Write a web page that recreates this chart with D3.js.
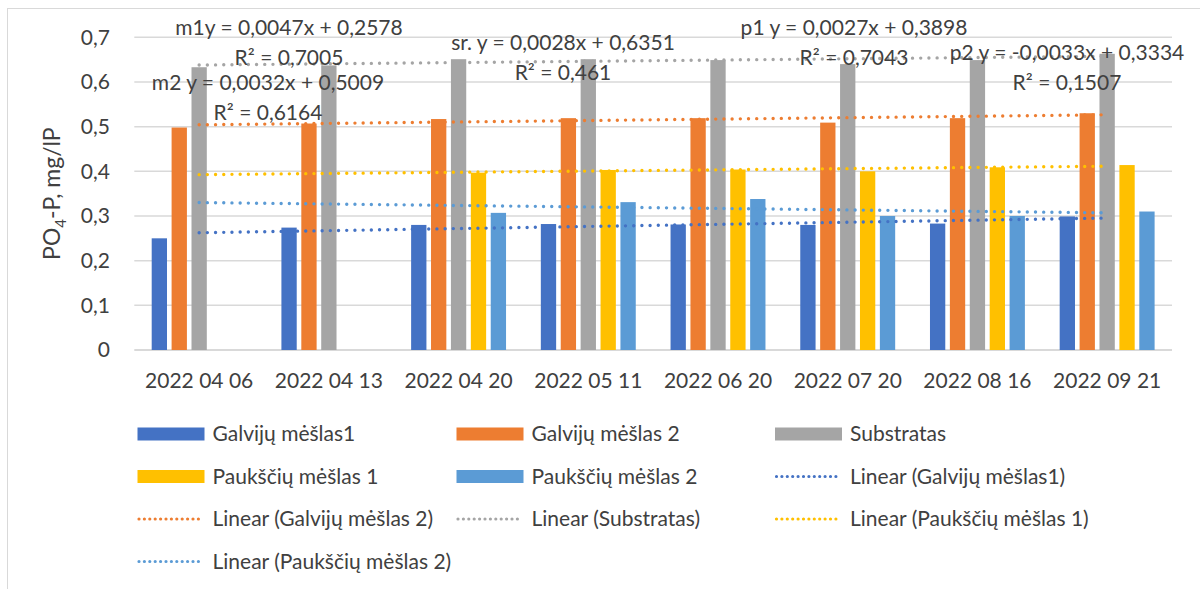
<!DOCTYPE html>
<meta charset="utf-8">
<style>
    body { margin: 0; background: #fff; }
    text { font-family: Lato, "Open Sans", sans-serif; fill: #404040; }
</style>
<body>
<div id="chart"></div>
<script src="https://cdn.jsdelivr.net/npm/d3@7"></script>
<script>
    // data
    var dates = ['2022 04 06', '2022 04 13', '2022 04 20', '2022 05 11', '2022 06 20', '2022 07 20', '2022 08 16', '2022 09 21']
    var seriesNames = ['Galvijų mėšlas1', 'Galvijų mėšlas 2', 'Substratas', 'Paukščių mėšlas 1', 'Paukščių mėšlas 2']
    var galvijai1 = [0.250, 0.274, 0.280, 0.282, 0.281, 0.280, 0.283, 0.299]
    var galvijai2 = [0.498, 0.507, 0.517, 0.519, 0.519, 0.509, 0.519, 0.530]
    var substratas = [0.633, 0.637, 0.651, 0.651, 0.649, 0.640, 0.649, 0.663]
    var paukstiai1 = [null, null, 0.397, 0.403, 0.404, 0.400, 0.409, 0.414]
    var paukstiai2 = [null, null, 0.307, 0.331, 0.338, 0.300, 0.300, 0.310]
    var colors = ['#4472C4', '#ED7D31', '#A5A5A5', '#FFC000', '#5B9BD5']
    var yTicks = [0, 0.1, 0.2, 0.3, 0.4, 0.5, 0.6, 0.7]

    // trendlines: slope, intercept (x = 1..8)
    var trendSlope = [0.0047, 0.0032, 0.0028, 0.0027, -0.0033]
    var trendIntercept = [0.2578, 0.5009, 0.6351, 0.3898, 0.3334]
    var trendLabels = [
        ['m1y = 0,0047x + 0,2578', 'R² = 0,7005'],
        ['m2 y = 0,0032x + 0,5009', 'R² = 0,6164'],
        ['sr. y = 0,0028x + 0,6351', 'R² = 0,461'],
        ['p1 y = 0,0027x + 0,3898', 'R² = 0,7043'],
        ['p2 y = -0,0033x + 0,3334', 'R² = 0,1507']
    ]
    var labelPos = [[289, 28], [268, 83], [563, 43], [854, 28], [1067, 53]]

    var values = [galvijai1, galvijai2, substratas, paukstiai1, paukstiai2]

    var width = 1200, height = 589
    var svg = d3.select('#chart').append('svg')
        .attr('width', width)
        .attr('height', height)

    // chart border (top + left visible)
    svg.append('line').attr('x1', 7).attr('x2', width).attr('y1', 8.5).attr('y2', 8.5)
        .style('stroke', '#d9d9d9').style('stroke-width', 1)
    svg.append('line').attr('x1', 7.5).attr('x2', 7.5).attr('y1', 8).attr('y2', height)
        .style('stroke', '#d9d9d9').style('stroke-width', 1)

    var x0 = d3.scaleBand().domain(dates).range([134.3, 1172]).padding(0)
    var x1 = d3.scaleBand().domain(d3.range(5)).range([0, x0.bandwidth()])
        .paddingInner(0.231).paddingOuter(0.874)
    var y = d3.scaleLinear().domain([0, 0.7]).range([350, 37.3])

    // gridlines
    svg.append('g').selectAll('line')
        .data(yTicks)
        .enter().append('line')
        .attr('x1', 134.3).attr('x2', 1172)
        .attr('y1', function (d) { return y(d) }).attr('y2', function (d) { return y(d) })
        .style('stroke', '#d9d9d9')
        .style('stroke-width', function (d) { return d === 0 ? 2 : 1.5 })

    // y axis
    var yAxis = d3.axisLeft(y).tickValues(yTicks).tickSize(0).tickPadding(0)
        .tickFormat(function (d) { return d === 0 ? '0' : d3.format('.1f')(d).replace('.', ',') })
    var gy = svg.append('g').attr('transform', 'translate(110,0)').call(yAxis)
    gy.select('.domain').remove()
    gy.selectAll('text').style('font-size', '21px').style('fill', '#404040')
        .attr('font-family', null)

    // x axis
    var xAxis = d3.axisBottom(x0).tickSize(0).tickPadding(0)
    var gx = svg.append('g').attr('transform', 'translate(0,381)').call(xAxis)
    gx.select('.domain').remove()
    gx.selectAll('text').style('font-size', '21px').style('fill', '#404040')
        .attr('dy', '0.35em').attr('font-family', null)

    // y title
    var title = svg.append('text')
        .attr('transform', 'translate(60,' + y(0.35) + ') rotate(-90)')
        .attr('text-anchor', 'middle')
        .style('font-size', '23px')
    title.append('tspan').text('PO')
    title.append('tspan').text('4').attr('dy', 6).style('font-size', '15px')
    title.append('tspan').text('-P, mg/lP').attr('dy', -6)

    // bars
    var groups = svg.append('g').selectAll('g')
        .data(dates)
        .enter().append('g')
        .attr('transform', function (d) { return 'translate(' + x0(d) + ',0)' })
    groups.selectAll('rect')
        .data(function (d, i) {
            return values.map(function (v, s) { return { s: s, v: v[i] } })
                .filter(function (e) { return e.v !== null })
        })
        .enter().append('rect')
        .attr('x', function (d) { return x1(d.s) })
        .attr('width', x1.bandwidth())
        .attr('y', function (d) { return y(d.v) })
        .attr('height', function (d) { return y(0) - y(d.v) })
        .style('fill', function (d) { return colors[d.s] })

    // trendlines
    var line = d3.line()
        .x(function (d) { return x0(dates[d.i]) + x0.bandwidth() / 2 })
        .y(function (d) { return y(d.v) })
    svg.append('g').selectAll('path')
        .data(d3.range(5))
        .enter().append('path')
        .attr('d', function (s) {
            return line([1, 8].map(function (k) {
                return { i: k - 1, v: trendSlope[s] * k + trendIntercept[s] }
            }))
        })
        .style('fill', 'none')
        .style('stroke', function (s) { return colors[s] })
        .style('stroke-width', 3.4)
        .style('stroke-linecap', 'round')
        .style('stroke-dasharray', '0 8.2')

    // trendline labels
    var lbl = svg.append('g').selectAll('text')
        .data(d3.range(5))
        .enter().append('text')
        .attr('text-anchor', 'middle')
        .style('font-size', '21px')
    lbl.selectAll('tspan')
        .data(function (s) {
            return trendLabels[s].map(function (t, k) { return { t: t, x: labelPos[s][0], y: labelPos[s][1] + k * 30 } })
        })
        .enter().append('tspan')
        .attr('x', function (d) { return d.x })
        .attr('y', function (d) { return d.y })
        .attr('dy', '0.35em')
        .text(function (d) { return d.t })

    // legend
    var legendItems = seriesNames.map(function (n, s) { return { name: n, s: s, type: 'bar' } })
        .concat(seriesNames.map(function (n, s) { return { name: 'Linear (' + n + ')', s: s, type: 'line' } }))
    var colX = [137.5, 456.5, 775]
    var leg = svg.append('g').selectAll('g')
        .data(legendItems)
        .enter().append('g')
        .attr('transform', function (d, i) {
            return 'translate(' + colX[i % 3] + ',' + (434 + Math.floor(i / 3) * 42.5) + ')'
        })
    leg.filter(function (d) { return d.type === 'bar' }).append('rect')
        .attr('x', 0).attr('y', -6.5).attr('width', 67).attr('height', 13)
        .style('fill', function (d) { return colors[d.s] })
    leg.filter(function (d) { return d.type === 'line' }).append('line')
        .attr('x1', 1.5).attr('x2', 66).attr('y1', 0).attr('y2', 0)
        .style('stroke', function (d) { return colors[d.s] })
        .style('stroke-width', 3.2)
        .style('stroke-linecap', 'round')
        .style('stroke-dasharray', '0 5.4')
    leg.append('text')
        .attr('x', 75).attr('y', 0).attr('dy', '0.35em')
        .style('font-size', '21px')
        .text(function (d) { return d.name })
</script>
</body>
